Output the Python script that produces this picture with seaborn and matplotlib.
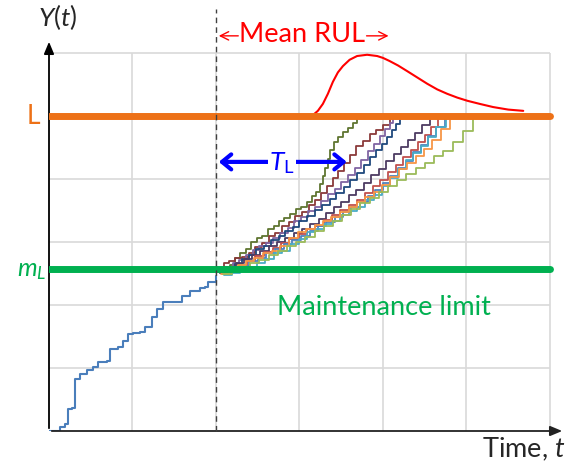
import numpy as np
import pandas as pd
import seaborn as sns
import matplotlib.pyplot as plt

sns.set_theme(style="white")
plt.rcParams["font.family"] = ["Lato", "DejaVu Sans"]
plt.rcParams["mathtext.fontset"] = "custom"
plt.rcParams["mathtext.rm"] = "Lato"
plt.rcParams["mathtext.it"] = "Lato:italic"

# degradation history up to the inspection time
hist_t = [0, 1.1, 1.3, 1.9, 2.3, 2.8, 3.1, 3.7, 4.6, 5.3, 5.9, 6.9, 7.3, 8.3, 8.9,
          9.5, 10.1, 10.9, 11.5, 12.3, 12.9, 13.7, 15.3, 15.9, 16.9, 18.1, 18.7, 19.0, 20.0]
hist_y = [0, 0, 0.6, 1.1, 3.5, 3.7, 8.3, 9.0, 9.7, 10.2, 11.0, 11.1, 13.0, 13.3, 14.3,
          15.4, 15.6, 15.7, 16.5, 18.1, 19.4, 20.5, 20.5, 21.4, 22.2, 22.7, 22.9, 23.7, 24.6]

# simulated future paths
paths = {
    "olive": ([20.4, 21.0, 21.7, 22.3, 22.9, 23.6, 24.2, 24.9, 25.5, 26.2, 26.9, 27.5, 28.2, 28.9, 29.6,
               30.2, 30.9, 31.5, 32.0, 32.4, 32.8, 33.1, 33.4, 33.7, 34.1, 34.6, 35.2, 35.8, 36.4, 36.9],
              [25.2, 26.0, 26.4, 27.5, 28.3, 28.8, 30.0, 30.6, 31.0, 32.1, 32.6, 33.4, 33.8, 34.5, 35.2,
               35.6, 36.4, 37.3, 38.0, 39.2, 40.5, 41.8, 43.2, 44.6, 45.8, 46.6, 47.4, 48.1, 48.8, 49.6]),
    "brown": ([20.3, 20.9, 21.6, 22.3, 23.1, 23.9, 24.7, 25.5, 26.3, 27.1, 27.9, 28.7, 29.5, 30.3,
               31.1, 31.9, 32.6, 33.3, 34.0, 34.6, 35.3, 36.0, 36.8, 37.6, 38.4, 39.2, 40.0, 40.8],
              [25.5, 26.6, 27.0, 27.4, 27.6, 28.3, 29.2, 29.8, 30.9, 31.4, 32.6, 33.2, 34.1, 34.8,
               35.8, 36.6, 37.8, 38.8, 40.2, 41.3, 42.5, 43.8, 45.2, 46.0, 47.1, 47.8, 48.6, 49.6]),
    "purple": ([20.5, 21.2, 22.0, 22.8, 23.6, 24.4, 25.2, 26.0, 26.8, 27.7, 28.6, 29.4, 30.2, 31.0,
                31.8, 32.6, 33.4, 34.2, 35.0, 35.8, 36.6, 37.4, 38.2, 38.9, 39.6, 40.3, 40.8, 41.2],
               [25.0, 25.9, 26.6, 27.2, 28.0, 28.7, 29.4, 29.9, 30.6, 31.4, 32.2, 33.3, 34.0, 34.9,
                35.6, 36.5, 37.6, 38.4, 39.5, 40.6, 41.8, 43.0, 44.4, 45.6, 46.8, 47.9, 48.8, 49.6]),
    "navy": ([20.6, 21.4, 22.3, 23.1, 24.0, 24.8, 25.7, 26.6, 27.5, 28.3, 29.2, 30.0, 30.9, 31.8,
              32.7, 33.6, 34.4, 35.3, 36.1, 36.9, 37.7, 38.5, 39.2, 39.9, 40.5, 41.1, 41.6, 42.0],
             [25.0, 25.7, 26.5, 27.3, 27.9, 28.8, 29.4, 30.3, 31.0, 31.7, 32.4, 33.3, 34.1, 35.0,
              35.8, 36.8, 37.7, 38.7, 39.9, 41.0, 42.2, 43.4, 44.6, 45.6, 46.7, 47.7, 48.7, 49.6]),
    "darkpurple": ([20.5, 21.4, 22.4, 23.3, 24.3, 25.3, 26.3, 27.3, 28.3, 29.3, 30.3, 31.3, 32.3, 33.2,
                    34.1, 35.0, 35.9, 36.8, 37.7, 38.6, 39.5, 40.4, 41.3, 42.2, 43.0, 43.8, 44.7, 45.6],
                   [25.1, 25.8, 26.6, 27.3, 27.9, 28.6, 29.3, 30.0, 30.6, 31.4, 32.1, 32.9, 33.6, 34.6,
                    35.5, 36.3, 37.4, 38.3, 39.4, 40.6, 41.6, 42.8, 43.9, 45.1, 46.2, 47.3, 48.5, 49.6]),
    "red": ([20.7, 21.7, 22.7, 23.7, 24.7, 25.7, 26.8, 27.8, 28.8, 29.9, 30.9, 31.9, 32.9, 33.9,
             34.9, 35.9, 36.9, 37.9, 38.8, 39.7, 40.6, 41.5, 42.4, 43.3, 44.2, 45.0, 45.8, 46.6],
            [25.0, 25.6, 26.4, 27.0, 27.8, 28.4, 29.1, 29.9, 30.4, 31.2, 32.0, 32.6, 33.5, 34.2,
             35.0, 35.9, 36.7, 37.8, 38.8, 39.9, 41.1, 42.2, 43.5, 44.6, 45.8, 47.0, 48.3, 49.6]),
    "blue": ([20.8, 21.8, 22.9, 23.9, 25.0, 26.0, 27.1, 28.1, 29.1, 30.2, 31.2, 32.2, 33.2, 34.2,
              35.2, 36.2, 37.2, 38.2, 39.1, 40.0, 40.9, 41.8, 42.7, 43.6, 44.5, 45.4, 46.4, 47.4],
             [24.9, 25.5, 26.2, 26.9, 27.5, 28.3, 28.9, 29.6, 30.3, 31.0, 31.7, 32.5, 33.2, 34.0,
              34.7, 35.5, 36.4, 37.3, 38.3, 39.4, 40.5, 41.7, 42.9, 44.2, 45.4, 46.8, 48.2, 49.6]),
    "cyan": ([20.9, 21.9, 22.9, 23.9, 24.9, 25.9, 26.9, 27.9, 28.9, 29.9, 30.9, 31.9, 32.9, 33.9,
              34.9, 35.9, 36.9, 37.9, 38.9, 39.9, 40.9, 41.8, 42.7, 43.6, 44.5, 45.4, 46.4, 47.5],
             [24.8, 25.1, 25.5, 26.0, 26.7, 27.3, 28.2, 28.5, 29.6, 30.5, 31.6, 32.1, 32.9, 33.4,
              34.2, 34.9, 35.5, 36.6, 37.5, 38.8, 40.1, 41.6, 43.0, 44.1, 45.2, 46.6, 48.2, 49.6]),
    "orange": ([20.6, 21.6, 22.6, 23.6, 24.6, 25.6, 26.7, 27.7, 28.7, 29.8, 30.8, 31.8, 32.8, 33.8,
                34.9, 35.9, 36.9, 37.9, 38.9, 39.9, 40.9, 41.9, 42.9, 43.9, 44.9, 45.9, 47.0, 48.0],
               [24.9, 25.6, 26.3, 27.0, 27.5, 28.2, 28.6, 29.4, 30.6, 31.5, 32.1, 32.7, 33.4, 34.0,
                34.8, 35.6, 36.4, 37.2, 38.0, 39.1, 40.3, 41.5, 42.6, 43.7, 44.8, 46.1, 47.9, 49.6]),
    "lightgreen": ([20.8, 21.9, 23.0, 24.1, 25.2, 26.3, 27.4, 28.5, 29.6, 30.7, 31.8, 32.9, 34.0, 35.1,
                    36.2, 37.3, 38.4, 39.5, 40.6, 41.7, 42.8, 43.9, 45.0, 46.1, 47.2, 48.4, 49.6, 50.8],
                   [24.9, 25.4, 26.0, 26.6, 27.2, 27.9, 28.6, 29.3, 30.0, 30.8, 31.7, 32.5, 33.4, 34.2,
                    35.2, 36.1, 37.0, 37.9, 38.9, 39.8, 40.8, 41.8, 42.6, 43.6, 44.5, 45.8, 47.6, 49.6]),
}
path_colors = ["#5f7530", "#8b3a3a", "#8064a2", "#1f497d", "#4d3b62",
               "#c0504d", "#4f81bd", "#4bacc6", "#f79646", "#9bbb59"]

# RUL density drawn on top of the failure threshold
rul_t = [31.5, 32.2, 32.8, 33.4, 34.0, 34.6, 35.2, 36.0, 36.9, 38.1, 39.3, 40.0, 40.8,
         41.8, 42.9, 44.1, 45.3, 46.5, 47.7, 48.9, 50.1, 51.6, 53.2, 55.0, 56.8]
rul_y = [50.0, 50.8, 51.9, 53.5, 55.4, 56.9, 57.9, 58.9, 59.5, 59.7, 59.5, 59.2, 58.7,
         58.0, 57.1, 56.1, 55.1, 54.2, 53.5, 52.9, 52.4, 51.9, 51.4, 51.0, 50.8]

L = 50
m_L = 25.7
t_now = 20

rows = []
for name, (t, y) in paths.items():
    rows += [{"path": name, "t": a, "y": b} for a, b in zip(t, y)]
future = pd.DataFrame(rows)

fig = plt.figure(figsize=(5.68, 4.64), dpi=100)
ax = fig.add_axes([49 / 568, 32 / 464, 516 / 568, 392 / 464])
ax.set_xlim(0, 61.8)
ax.set_ylim(0, 62.2)

grid_c = "#d9d9d9"
for g in range(10, 70, 10):
    ax.vlines(g, 0, 60, color=grid_c, lw=1.2, zorder=0)
    ax.hlines(g, 0, 60, color=grid_c, lw=1.2, zorder=0)

sns.lineplot(data=future, x="t", y="y", hue="path", palette=path_colors,
             estimator=None, sort=False, drawstyle="steps-post", lw=1.3,
             legend=False, ax=ax, zorder=3)
sns.lineplot(x=hist_t, y=hist_y, color="#4a7ebb", lw=1.5, estimator=None,
             sort=False, drawstyle="steps-post", ax=ax, zorder=3)
sns.lineplot(x=rul_t, y=rul_y, color="#ff0000", lw=1.5, estimator=None,
             sort=False, ax=ax, zorder=3)

ax.plot([0, 60], [L, L], color="#ed7117", lw=5, solid_capstyle="round", zorder=4)
ax.plot([0, 60], [m_L, m_L], color="#00b050", lw=5, solid_capstyle="round", zorder=4)
ax.plot([t_now, t_now], [0, 67], color="#404040", lw=1, dashes=(4, 3),
        clip_on=False, zorder=5)

# axes with arrow heads
for s in ax.spines.values():
    s.set_visible(False)
ax.set_xticks([])
ax.set_yticks([])
ax.set_xlabel("")
ax.set_ylabel("")
ax.annotate("", xy=(61.8, 0), xytext=(0, 0), annotation_clip=False,
            arrowprops=dict(arrowstyle="-|>,head_length=0.6,head_width=0.25", color="#222222", lw=1.3))
ax.annotate("", xy=(0, 62.2), xytext=(0, 0), annotation_clip=False,
            arrowprops=dict(arrowstyle="-|>,head_length=0.6,head_width=0.25", color="black", lw=1.3))

ax.text(1.1, 65.9, "$Y(t)$", fontsize=19, ha="center", va="center", clip_on=False)
ax.text(56.9, -2.7, "Time, $t$", fontsize=19.5, ha="center", va="center", clip_on=False)
ax.text(-1.9, L, "L", fontsize=19, color="#ed7117", ha="center", va="center", clip_on=False)
ax.text(-2.1, 25.6, "$m_L$", fontsize=18, color="#00b050", ha="center", va="center", clip_on=False)
ax.text(40.1, 19.7, "Maintenance limit", fontsize=19.5, color="#00b050", ha="center", va="center")

# mean RUL label
ax.text(30.3, 63.0, "Mean RUL", fontsize=19.5, color="#ff0000", ha="center", va="center", clip_on=False)
ax.annotate("", xy=(20, 62.7), xytext=(23.0, 62.7), annotation_clip=False,
            arrowprops=dict(arrowstyle="->,head_length=0.5,head_width=0.25", color="#ff0000", lw=1))
ax.annotate("", xy=(41.0, 62.7), xytext=(37.7, 62.7), annotation_clip=False,
            arrowprops=dict(arrowstyle="->,head_length=0.5,head_width=0.25", color="#ff0000", lw=1))

# T_L arrow
ax.annotate("", xy=(36.0, 42.7), xytext=(20, 42.7),
            arrowprops=dict(arrowstyle="<->,head_length=0.55,head_width=0.45", color="#0000ff", lw=3),
            zorder=6)
ax.text(27.9, 42.6, r"$T_{\mathrm{L}}$", fontsize=19, color="#0000ff", ha="center", va="center",
        bbox=dict(facecolor="white", edgecolor="none", pad=1), zorder=7)

fig.savefig("out.png", dpi=100)
